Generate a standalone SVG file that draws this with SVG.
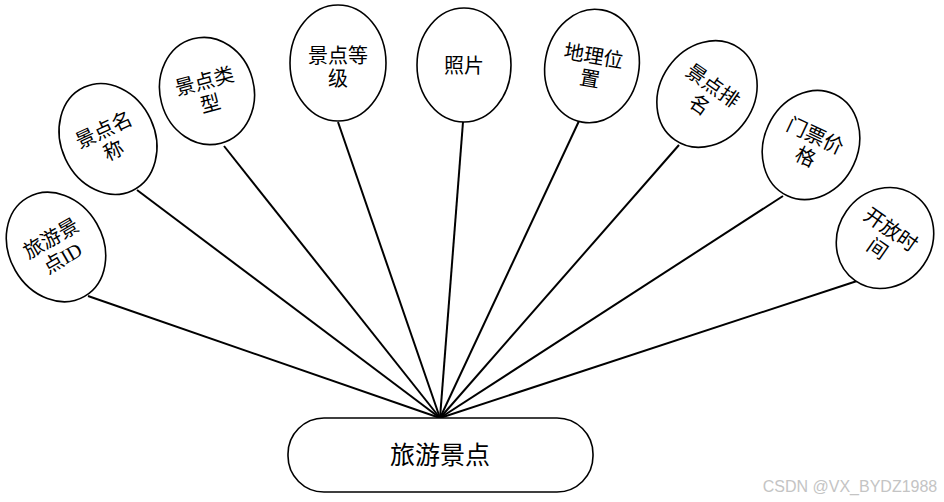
<svg xmlns="http://www.w3.org/2000/svg" width="944" height="502" viewBox="0 0 944 502">
<style>
.e{fill:#fff;stroke:#000;stroke-width:1.6}
.t{font-family:"Liberation Serif","Noto Sans CJK SC",serif;font-size:20px;fill:#000;text-anchor:middle}
.c{stroke:#000;stroke-width:2;fill:none}
</style>
<rect width="944" height="502" fill="#fff"/>
<g id="connectors">
<line class="c" x1="88" y1="296" x2="440" y2="418"/>
<line class="c" x1="137" y1="190" x2="440" y2="418"/>
<line class="c" x1="224" y1="146" x2="440" y2="418"/>
<line class="c" x1="338" y1="122" x2="440" y2="418"/>
<line class="c" x1="463" y1="122" x2="440" y2="418"/>
<line class="c" x1="579" y1="121" x2="440" y2="418"/>
<line class="c" x1="679" y1="145" x2="440" y2="418"/>
<line class="c" x1="783" y1="196" x2="440" y2="418"/>
<line class="c" x1="857" y1="281" x2="440" y2="418"/>
</g>
<g id="n1" transform="translate(56,247) rotate(-30)">
<ellipse class="e" rx="47" ry="57"/>
<text class="t" y="-3">旅游景</text><text class="t" y="20">点ID</text>
</g>
<g id="n2" transform="translate(108,139) rotate(-25)">
<ellipse class="e" rx="47" ry="57"/>
<text class="t" y="-3">景点名</text><text class="t" y="20">称</text>
</g>
<g id="n3" transform="translate(207,91) rotate(-15)">
<ellipse class="e" rx="47" ry="54"/>
<text class="t" y="-3">景点类</text><text class="t" y="20">型</text>
</g>
<g id="n4" transform="translate(338,63)">
<ellipse class="e" rx="48" ry="58"/>
<text class="t" y="0">景点等</text><text class="t" y="23">级</text>
</g>
<g id="n5" transform="translate(464,65)">
<ellipse class="e" rx="47" ry="57"/>
<text class="t" y="8">照片</text>
</g>
<g id="n6" transform="translate(592,66) rotate(10)">
<ellipse class="e" rx="47" ry="57"/>
<text class="t" y="-3">地理位</text><text class="t" y="20">置</text>
</g>
<g id="n7" transform="translate(707,94) rotate(35)">
<ellipse class="e" rx="47" ry="56"/>
<text class="t" y="-3">景点排</text><text class="t" y="20">名</text>
</g>
<g id="n8" transform="translate(811,145) rotate(25)">
<ellipse class="e" rx="47" ry="56"/>
<text class="t" y="-3">门票价</text><text class="t" y="20">格</text>
</g>
<g id="n9" transform="translate(885,238) rotate(35)">
<ellipse class="e" rx="47" ry="52"/>
<text class="t" y="-3">开放时</text><text class="t" y="20">间</text>
</g>
<g id="main">
<rect class="e" x="288" y="418" width="305" height="74" rx="36" ry="36"/>
<text class="t" x="440" y="464" style="font-size:25px">旅游景点</text>
</g>
<text x="850" y="492" style="font-family:'Liberation Sans',sans-serif;font-size:16px;fill:#c4c4c4;text-anchor:middle">CSDN @VX_BYDZ1988</text>
</svg>
